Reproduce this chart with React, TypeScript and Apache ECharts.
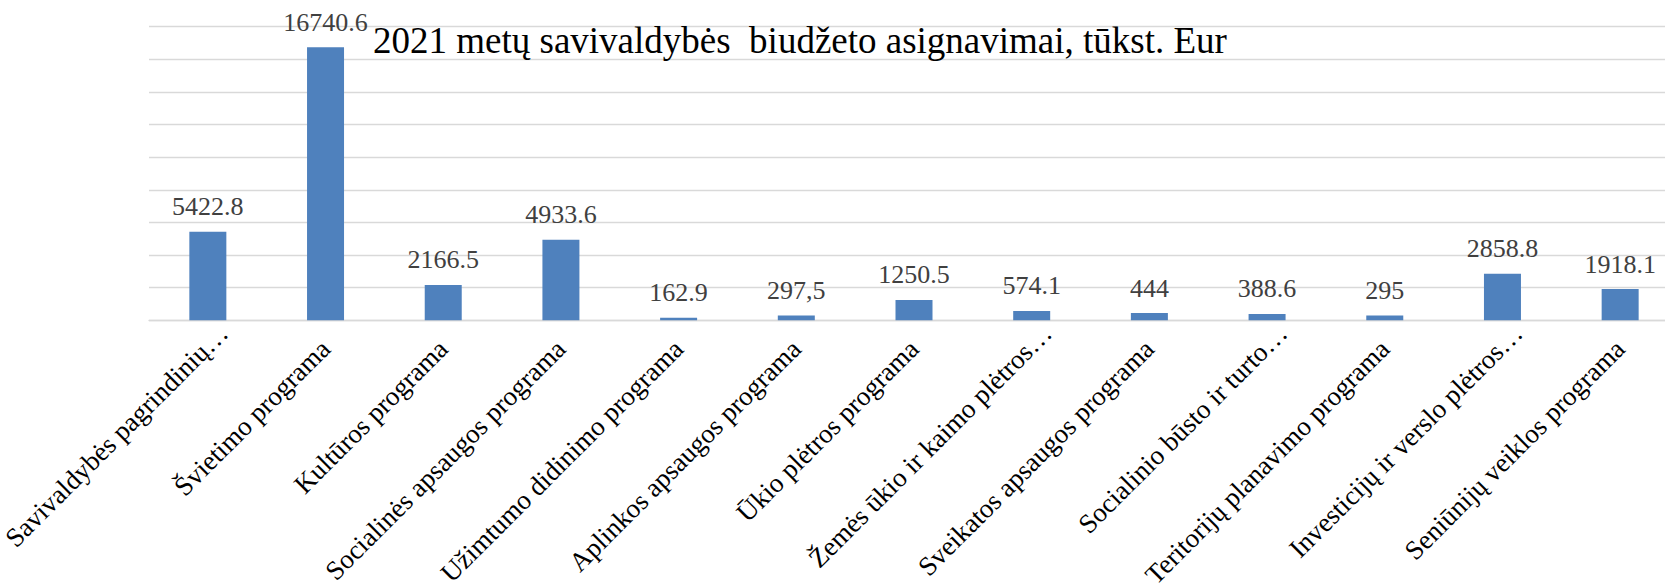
import React, { useEffect, useRef } from "react";
import * as echarts from "echarts";

const categories = [
  "Savivaldybės pagrindinių…",
  "Švietimo programa",
  "Kultūros programa",
  "Socialinės apsaugos programa",
  "Užimtumo didinimo programa",
  "Aplinkos apsaugos programa",
  "Ūkio plėtros programa",
  "Žemės ūkio ir kaimo plėtros…",
  "Sveikatos apsaugos programa",
  "Socialinio būsto ir turto…",
  "Teritorijų planavimo programa",
  "Investicijų ir verslo plėtros…",
  "Seniūnijų veiklos programa",
];

const values = [5422.8, 16740.6, 2166.5, 4933.6, 162.9, 297.5, 1250.5, 574.1, 444, 388.6, 295, 2858.8, 1918.1];

const valueLabels = ["5422.8", "16740.6", "2166.5", "4933.6", "162.9", "297,5", "1250.5", "574.1", "444", "388.6", "295", "2858.8", "1918.1"];

const titleText = "2021 metų savivaldybės  biudžeto asignavimai, tūkst. Eur";

export default function App() {
  const ref = useRef<HTMLDivElement>(null);
  useEffect(() => {
    if (!ref.current) return;
    const chart = echarts.init(ref.current, undefined, { renderer: "svg" });
    const serif = "Liberation Serif";
    const axisData = categories.map((c) =>
      c.endsWith("…")
        ? { value: c, textStyle: { padding: [0, -22, 0, 0] } }
        : c
    );
    chart.setOption({
      animation: false,
      backgroundColor: "#ffffff",
      title: {
        text: titleText,
        left: 373,
        top: 22,
        padding: 0,
        textStyle: {
          fontFamily: serif,
          fontSize: 37,
          fontWeight: "normal",
          color: "#000000",
        },
      },
      grid: {
        left: 149,
        right: -14,
        top: 26.7,
        bottom: 262.7,
        containLabel: false,
        outerBoundsMode: "none",
      },
      xAxis: {
        type: "category",
        data: axisData,
        axisLine: { show: true, lineStyle: { color: "#d9d9d9", width: 1.3 } },
        axisTick: { show: false },
        axisLabel: {
          rotate: 45,
          margin: 24,
          interval: 0,
          fontFamily: serif,
          fontSize: 27,
          color: "#000000",
        },
      },
      yAxis: {
        type: "value",
        min: 0,
        max: 18000,
        interval: 2000,
        axisLabel: { show: false },
        axisLine: { show: false },
        axisTick: { show: false },
        splitLine: { show: true, lineStyle: { color: "#d9d9d9", width: 1.3 } },
      },
      series: [
        {
          type: "bar",
          data: values,
          barWidth: 37,
          itemStyle: { color: "#4f81bd" },
          label: {
            show: true,
            position: "top",
            distance: 12,
            fontFamily: serif,
            fontSize: 26,
            color: "#404040",
            formatter: (p: any) => valueLabels[p.dataIndex],
          },
        },
      ],
    });
    return () => chart.dispose();
  }, []);
  return (
    <div
      ref={ref}
      style={{ position: "fixed", left: 0, top: 0, width: 1665, height: 583 }}
    />
  );
}
